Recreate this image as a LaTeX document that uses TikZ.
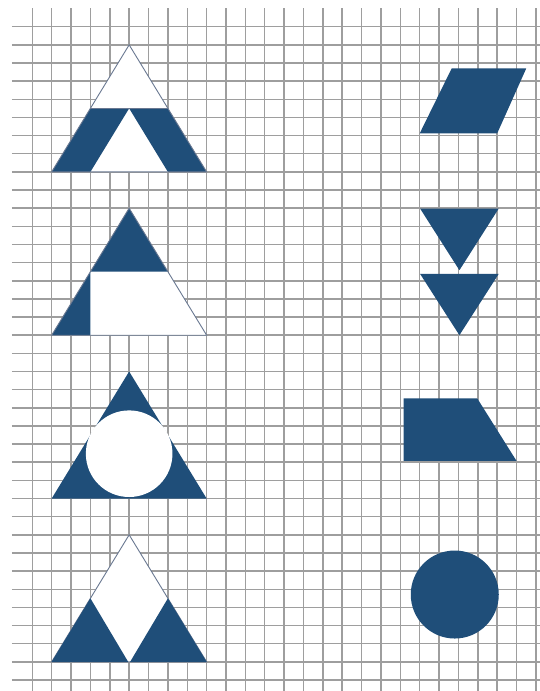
\documentclass[tikz,border=0pt]{standalone}
\definecolor{shapeblue}{RGB}{31,78,121}
\definecolor{gridgray}{RGB}{158,158,158}
\definecolor{edgecol}{RGB}{105,120,145}
\tikzset{
  gridline/.style={draw=gridgray,line width=1.5pt},
  bluefill/.style={fill=shapeblue},
  whitefill/.style={fill=white},
  outline/.style={draw=edgecol,line width=0.9pt,line join=miter},
}
\begin{document}
\begin{tikzpicture}
\useasboundingbox[fill=white] (0,0) rectangle (539pt,-691pt);
\begin{scope}[shift={(32.3pt,-26.7pt)},x=19.37pt,y=-18.147pt]
  % grid
  \foreach \k in {0,...,26} \draw[gridline] (\k,-1.03) -- (\k,36.6);
  \foreach \j in {0,...,36} \draw[gridline] (-1.06,\j) -- (26.2,\j);

  % shape 1
  \fill[whitefill] (5,1) -- (1,8) -- (9,8) -- cycle;
  \fill[bluefill] (1,8) -- (3,4.5) -- (7,4.5) -- (9,8) -- (7,8) -- (5,4.5) -- (3,8) -- cycle;
  \draw[outline] (5,1) -- (1,8) -- (9,8) -- cycle;
  \draw[outline] (3,4.5) -- (7,4.5);

  % shape 2
  \fill[whitefill] (5,10) -- (1,17) -- (9,17) -- cycle;
  \fill[bluefill] (5,10) -- (3,13.5) -- (7,13.5) -- cycle;
  \fill[bluefill] (3,13.5) -- (1,17) -- (3,17) -- cycle;
  \draw[outline] (5,10) -- (1,17) -- (9,17) -- cycle;

  % shape 3
  \fill[bluefill] (5,19) -- (1,26) -- (9,26) -- cycle;
  \fill[whitefill] (5,23.53) circle[radius=43.3pt];

  % shape 4
  \fill[whitefill] (5,28) -- (1,35) -- (9,35) -- cycle;
  \draw[outline] (5,28) -- (1,35) -- (9,35) -- cycle;
  \fill[bluefill] (3,31.5) -- (1,35) -- (4.95,35) -- cycle;
  \fill[bluefill] (7,31.5) -- (5.05,35) -- (9,35) -- cycle;

  % right column
  \fill[bluefill] (21.65,2.3) -- (25.5,2.3) -- (24,5.88) -- (20,5.88) -- cycle;
  \fill[bluefill] (20.02,10.02) -- (24.08,10.02) -- (22.05,13.42) -- cycle;
  \fill[bluefill] (20.02,13.62) -- (24.08,13.62) -- (22.05,17) -- cycle;
  \fill[bluefill] (19.17,20.48) -- (22.97,20.48) -- (25,23.93) -- (19.17,23.93) -- cycle;
  \fill[bluefill] (21.81,31.29) circle[radius=44pt];
\end{scope}
\end{tikzpicture}
\end{document}
